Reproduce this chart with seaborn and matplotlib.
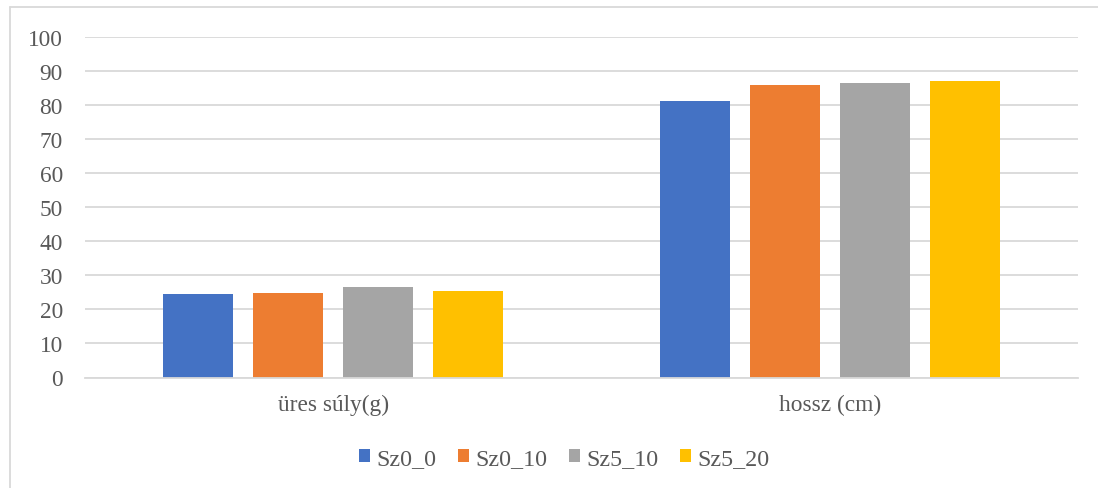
import matplotlib
matplotlib.use("Agg")
import matplotlib.pyplot as plt
from matplotlib.patches import Rectangle
from matplotlib.lines import Line2D
import seaborn as sns
import pandas as pd

# Measured traits and treatment groups
categories = ["üres súly(g)", "hossz (cm)"]
series = ["Sz0_0", "Sz0_10", "Sz5_10", "Sz5_20"]
sz0_0 = [24.6, 81.0]
sz0_10 = [24.9, 85.8]
sz5_10 = [26.6, 86.3]
sz5_20 = [25.3, 87.1]
colors = ["#4472C4", "#ED7D31", "#A5A5A5", "#FFC000"]
yticks = [0, 10, 20, 30, 40, 50, 60, 70, 80, 90, 100]

rows = []
for name, vals in zip(series, [sz0_0, sz0_10, sz5_10, sz5_20]):
    for cat, v in zip(categories, vals):
        rows.append({"cat": cat, "group": name, "value": v})
df = pd.DataFrame(rows)

sns.set_theme(style="white")
plt.rcParams["font.family"] = ["Liberation Serif", "DejaVu Serif"]

FS = 16.8
fig = plt.figure(figsize=(10.98, 4.89), dpi=100)
ax = fig.add_axes([85 / 1098, 1 - 378.5 / 489, (1078 - 85) / 1098, (378.5 - 37.7) / 489])

sns.barplot(data=df, x="cat", y="value", hue="group", order=categories,
            hue_order=series, palette=colors, width=0.725, gap=0.22,
            saturation=1, ax=ax, legend=False, edgecolor="none")

ax.set_xlim(-0.5, 1.5)
ax.set_ylim(0, 100)
ax.set_yticks(yticks)
ax.set_yticklabels([str(t) for t in yticks])
ax.yaxis.grid(True, color="#D9D9D9", linewidth=1.3)
ax.set_axisbelow(True)
for side in ["top", "right", "left"]:
    ax.spines[side].set_visible(False)
ax.spines["bottom"].set_color("#D9D9D9")
ax.spines["bottom"].set_linewidth(1.3)
ax.set_xlabel("")
ax.set_ylabel("")
ax.tick_params(axis="y", length=0, pad=16, labelsize=FS, labelcolor="#595959")
ax.tick_params(axis="x", length=0, pad=12, labelsize=FS, labelcolor="#595959")

# Outer chart frame (top and left edges)
fig.add_artist(Line2D([10 / 1098, 10 / 1098], [0, 1 - 8 / 489],
                      transform=fig.transFigure, color="#D9D9D9", linewidth=1.3))
fig.add_artist(Line2D([10 / 1098, 1], [1 - 8 / 489, 1 - 8 / 489],
                      transform=fig.transFigure, color="#D9D9D9", linewidth=1.3))

handles = [Rectangle((0, 0), 1, 1, facecolor=c, edgecolor="none") for c in colors]
fig.legend(handles, series, loc="center", bbox_to_anchor=(564 / 1098, 1 - 460 / 489),
           ncol=4, frameon=False, fontsize=17.3, labelcolor="#595959",
           handlelength=0.46, handleheight=0.46, handletextpad=0.26, columnspacing=0.9)

fig.savefig("out.png", dpi=100)
